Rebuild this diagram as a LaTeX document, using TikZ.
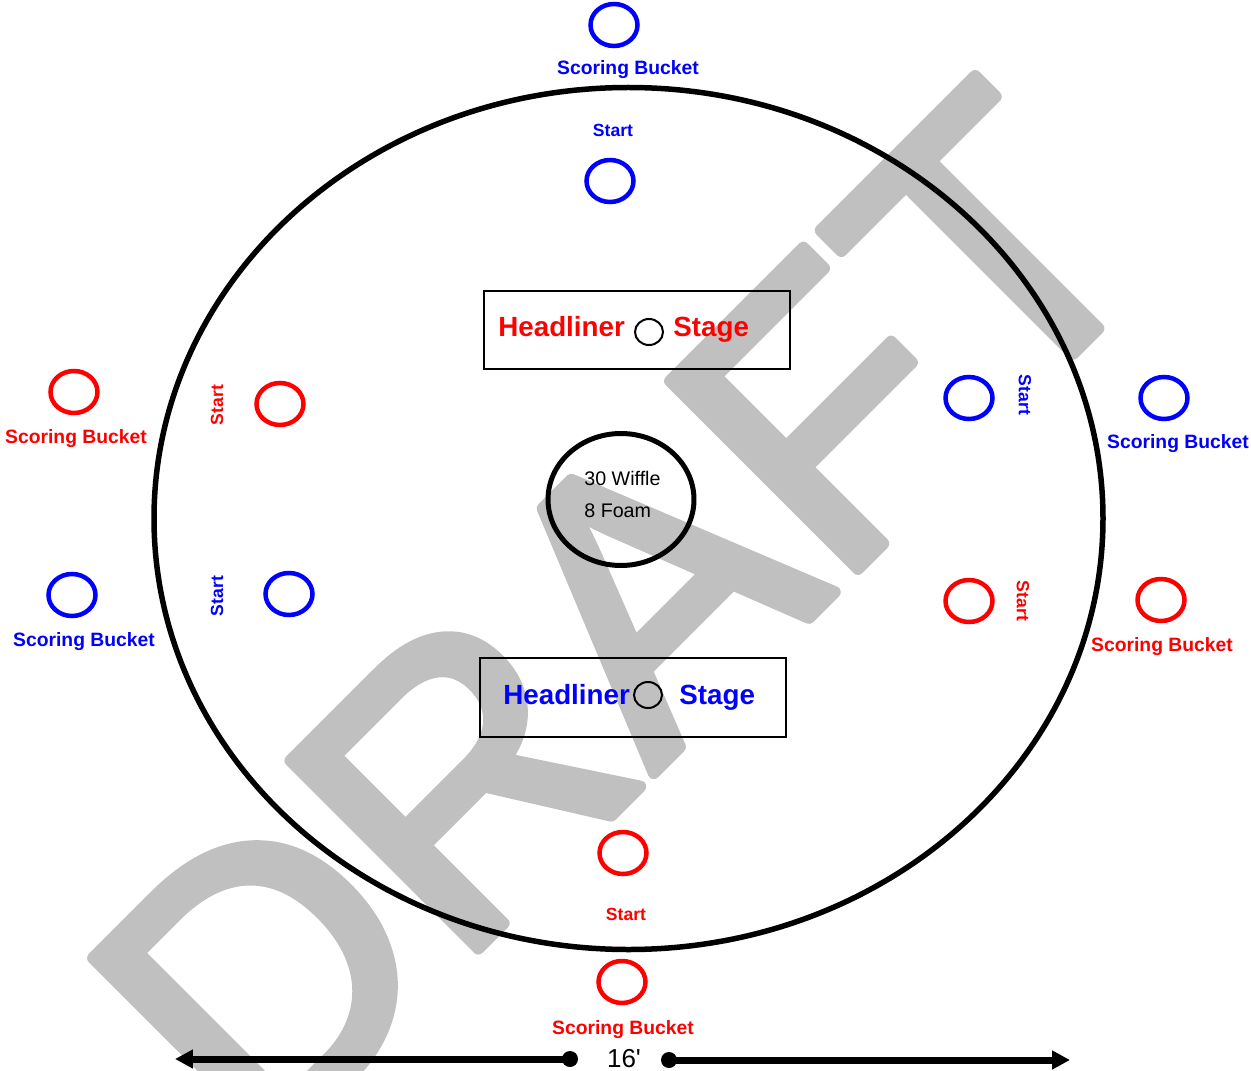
\documentclass[tikz,border=0pt]{standalone}
\usepackage{fontspec}
\setmainfont{Liberation Sans}
\newfontfamily\draftfont[FakeBold=3]{Liberation Sans}
\newfontfamily\measurefont[Ligatures=TeXOff]{Liberation Sans}
\usepackage{tikz}
\usetikzlibrary{arrows.meta,shapes.geometric}
\definecolor{redteam}{HTML}{FF0000}
\definecolor{blueteam}{HTML}{0000FF}
\definecolor{draftgray}{HTML}{C0C0C0}

\begin{document}
\begin{tikzpicture}[x=0.02cm, y=-0.02cm,
  ring/.style={draw, ellipse, line width=0.09cm, minimum width=0.94cm, minimum height=0.84cm, inner sep=0pt},
  bucketlabel/.style={anchor=base, inner sep=0pt, font=\fontsize{11pt}{13pt}\selectfont\bfseries},
  startlabel/.style={inner sep=0pt, font=\fontsize{10pt}{12pt}\selectfont\bfseries},
  stagebox/.style={draw, line width=0.04cm, rectangle, minimum width=6.12cm, minimum height=1.58cm, inner sep=0pt},
  stagetext/.style={anchor=base west, inner sep=0pt, font=\fontsize{15.8pt}{18pt}\selectfont\bfseries},
  stagering/.style={draw, ellipse, line width=0.04cm, minimum width=0.56cm, minimum height=0.52cm, inner sep=0pt},
  ballnote/.style={anchor=base west, inner sep=0pt, font=\fontsize{11.2pt}{13pt}\selectfont},
  dot/.style={circle, fill=black, minimum size=0.32cm, inner sep=0pt},
  measure/.style={line width=0.14cm, -{Triangle[length=0.36cm,width=0.36cm]}}]
\useasboundingbox (0,0) rectangle (1251,1071);%
% watermark
\node[draftgray, rotate=45, inner sep=0pt, line join=round, font=\draftfont\fontsize{220pt}{220pt}\selectfont] (draft) at (620,619) {DRAFT};%
% field
\draw[line width=0.11cm] (628.5,518.5) ellipse [x radius=474.5, y radius=431];%
\node[draw, ellipse, line width=0.1cm, minimum width=2.92cm, minimum height=2.64cm, inner sep=0pt] (balls) at (621,499.5) {};%
\node[ballnote] (wiffle) at (584,485) {30 Wiffle};%
\node[ballnote] (foam) at (584,517) {8 Foam};%
% top (blue)
\node[ring, blueteam] (topbucket) at (614,25) {};%
\node[bucketlabel, blueteam] (topbucketlbl) at (628,75) {Scoring Bucket};%
\node[startlabel, blueteam, anchor=base] (topstartlbl) at (613,137) {Start};%
\node[ring, blueteam] (topstart) at (610,181) {};%
% bottom (red)
\node[ring, redteam] (botstart) at (623,853) {};%
\node[startlabel, redteam, anchor=base] (botstartlbl) at (626,920) {Start};%
\node[ring, redteam] (botbucket) at (622,982) {};%
\node[bucketlabel, redteam] (botbucketlbl) at (623,1034) {Scoring Bucket};%
% left side
\node[ring, redteam] (leftredbucket) at (74,392) {};%
\node[bucketlabel, redteam] (leftredbucketlbl) at (76,443) {Scoring Bucket};%
\node[startlabel, redteam, rotate=90] (leftredstartlbl) at (217,405) {Start};%
\node[ring, redteam] (leftredstart) at (280,404) {};%
\node[ring, blueteam] (leftbluebucket) at (72,595) {};%
\node[bucketlabel, blueteam] (leftbluebucketlbl) at (84,646) {Scoring Bucket};%
\node[startlabel, blueteam, rotate=90] (leftbluestartlbl) at (217,596) {Start};%
\node[ring, blueteam] (leftbluestart) at (289,594) {};%
% right side
\node[ring, blueteam] (rightbluestart) at (969,398) {};%
\node[startlabel, blueteam, rotate=-90] (rightbluestartlbl) at (1025,395) {Start};%
\node[ring, blueteam] (rightbluebucket) at (1164,398) {};%
\node[bucketlabel, blueteam] (rightbluebucketlbl) at (1178,448) {Scoring Bucket};%
\node[ring, redteam] (rightredstart) at (969,601) {};%
\node[startlabel, redteam, rotate=-90] (rightredstartlbl) at (1023,601) {Start};%
\node[ring, redteam] (rightredbucket) at (1161,600) {};%
\node[bucketlabel, redteam] (rightredbucketlbl) at (1162,651) {Scoring Bucket};%
% stages
\node[stagebox] (redstage) at (637,330) {};%
\node[stagetext, redteam] (redhead) at (498,337) {Headliner};%
\node[stagering] (redring) at (649,332) {};%
\node[stagetext, redteam] (redstagetxt) at (673,337) {Stage};%
\node[stagebox] (bluestage) at (633,697.5) {};%
\node[stagetext, blueteam] (bluehead) at (503,704) {Headliner};%
\node[stagering] (bluering) at (648,695) {};%
\node[stagetext, blueteam] (bluestagetxt) at (679,704) {Stage};%
% 16 ft
\node[inner sep=0pt, font=\measurefont\fontsize{14.8pt}{17pt}\selectfont] (length) at (624,1059) {16'};%
\node[dot] (leftdot) at (570,1059) {};%
\node[dot] (rightdot) at (669,1060) {};%
\coordinate (lefttip) at (175,1059);%
\coordinate (righttip) at (1070,1060);%
\draw[measure] (leftdot.center) -- (lefttip);%
\draw[measure] (rightdot.center) -- (righttip);%
\end{tikzpicture}
\end{document}
